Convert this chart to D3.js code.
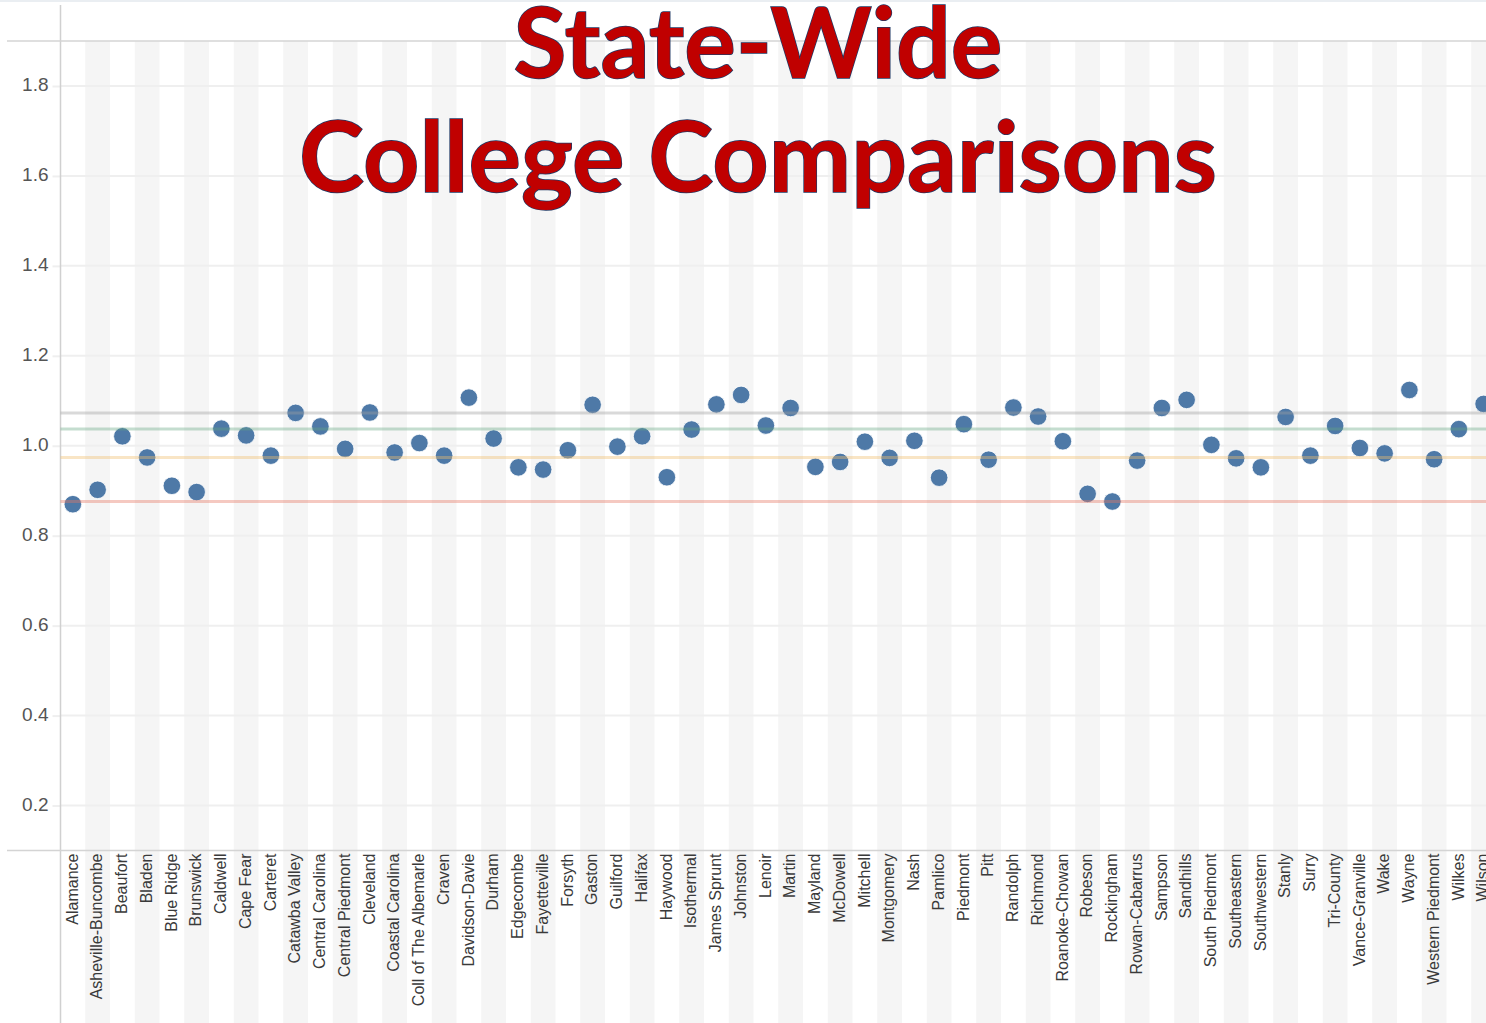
<!DOCTYPE html>
<html>
<head>
<meta charset="utf-8">
<script src="https://cdn.jsdelivr.net/npm/d3@7"></script>
<style>
  html, body { margin: 0; padding: 0; background: #fff; overflow: hidden; }
  svg { display: block; }
</style>
</head>
<body>
<svg id="chart" width="1486" height="1023"></svg>
<script>
const colleges = ["Alamance","Asheville-Buncombe","Beaufort","Bladen","Blue Ridge","Brunswick","Caldwell","Cape Fear","Carteret","Catawba Valley","Central Carolina","Central Piedmont","Cleveland","Coastal Carolina","Coll of The Albemarle","Craven","Davidson-Davie","Durham","Edgecombe","Fayetteville","Forsyth","Gaston","Guilford","Halifax","Haywood","Isothermal","James Sprunt","Johnston","Lenoir","Martin","Mayland","McDowell","Mitchell","Montgomery","Nash","Pamlico","Piedmont","Pitt","Randolph","Richmond","Roanoke-Chowan","Robeson","Rockingham","Rowan-Cabarrus","Sampson","Sandhills","South Piedmont","Southeastern","Southwestern","Stanly","Surry","Tri-County","Vance-Granville","Wake","Wayne","Western Piedmont","Wilkes","Wilson"];

const values = [0.870,0.902,1.021,0.974,0.911,0.897,1.038,1.023,0.978,1.073,1.043,0.993,1.074,0.985,1.006,0.978,1.107,1.016,0.952,0.947,0.990,1.091,0.998,1.021,0.930,1.036,1.092,1.113,1.045,1.084,0.953,0.964,1.009,0.973,1.011,0.929,1.048,0.969,1.085,1.065,1.010,0.893,0.876,0.967,1.084,1.102,1.002,0.972,0.952,1.064,0.978,1.044,0.995,0.983,1.124,0.970,1.037,1.093];

const yTicks = [0.2,0.4,0.6,0.8,1.0,1.2,1.4,1.6,1.8];

const refValues = [1.073, 1.037, 0.974, 0.876];
const refColors = ["rgba(160,160,160,0.4)","rgba(100,165,130,0.38)","rgba(240,190,110,0.4)","rgba(230,120,100,0.4)"];

const titleLines = ["State-Wide", "College Comparisons"];

const svg = d3.select("#chart");
const W = 1486, H = 1023;
const plotLeft = 60.5, plotTop = 41, plotBottom = 850.5;
const bandW = 24.75;

const x = d3.scaleBand().domain(colleges).range([plotLeft, plotLeft + colleges.length * bandW]).paddingInner(0).paddingOuter(0);
const y = d3.scaleLinear().domain([0.1, 1.9]).range([plotBottom, plotTop]);

// faint top border
svg.append("line").attr("x1", 0).attr("x2", W).attr("y1", 1).attr("y2", 1)
  .attr("stroke", "#eaeef2").attr("stroke-width", 2);

// stripes
svg.append("g").selectAll("rect").data(colleges.filter((d, i) => i % 2 === 1)).join("rect")
  .attr("x", d => x(d)).attr("width", x.bandwidth())
  .attr("y", plotTop).attr("height", H - plotTop)
  .attr("fill", "#f5f5f5");

// gridlines + tick marks
const yAxis = d3.axisLeft(y).tickValues(yTicks).tickFormat(d3.format(".1f")).tickSize(8).tickPadding(4);
const gy = svg.append("g").attr("transform", `translate(${plotLeft},0)`).call(yAxis);
gy.select(".domain").remove();
gy.selectAll(".tick line").attr("stroke", "#efefef").attr("stroke-width", 2);
gy.selectAll(".tick text").attr("font-family", "'Liberation Sans', Arial, sans-serif")
  .attr("font-size", 19).attr("fill", "#555").attr("dy", "0.25em");
svg.append("g").selectAll("line").data(yTicks).join("line")
  .attr("x1", plotLeft).attr("x2", W).attr("y1", d => y(d)).attr("y2", d => y(d))
  .attr("stroke", "#efefef").attr("stroke-width", 2);

// frame lines
svg.append("line").attr("x1", plotLeft).attr("x2", plotLeft).attr("y1", 5).attr("y2", H)
  .attr("stroke", "#d0d0d0").attr("stroke-width", 1.5);
svg.append("line").attr("x1", 7).attr("x2", W).attr("y1", plotTop).attr("y2", plotTop)
  .attr("stroke", "#d4d4d4").attr("stroke-width", 1.5);
svg.append("line").attr("x1", 7).attr("x2", W).attr("y1", plotBottom).attr("y2", plotBottom)
  .attr("stroke", "#d4d4d4").attr("stroke-width", 1.5);

// dots
svg.append("g").selectAll("circle").data(colleges).join("circle")
  .attr("cx", d => x(d) + x.bandwidth() / 2)
  .attr("cy", (d, i) => y(values[i]))
  .attr("r", 8.8)
  .attr("fill", "#4e79a7")
  .attr("stroke", "#fff").attr("stroke-width", 0.8);

// reference lines
svg.append("g").selectAll("line").data(refValues).join("line")
  .attr("x1", plotLeft).attr("x2", W)
  .attr("y1", d => y(d)).attr("y2", d => y(d))
  .attr("stroke", (d, i) => refColors[i]).attr("stroke-width", 3);

// category labels
const xAxis = d3.axisBottom(x).tickSize(0).tickPadding(0);
const gx = svg.append("g").attr("transform", `translate(0,${plotBottom})`).call(xAxis);
gx.select(".domain").remove();
gx.selectAll(".tick text")
  .attr("font-family", "'Liberation Sans', Arial, sans-serif")
  .attr("font-size", 16).attr("fill", "#3a3a3a")
  .attr("text-anchor", "end")
  .attr("transform", "rotate(-90)")
  .attr("x", -3).attr("y", 0).attr("dy", "0.3em");

// title
const titleY = [78, 192];
const titleW = [489, 918];
titleLines.forEach((t, i) => {
  svg.append("text")
    .attr("x", 758).attr("y", titleY[i])
    .attr("text-anchor", "middle")
    .attr("font-family", "Lato, 'Open Sans', sans-serif")
    .attr("font-weight", 700)
    .attr("font-size", 98)
    .attr("fill", "#c00000")
    .attr("stroke", "#1f3864").attr("stroke-width", 1.5)
    .attr("paint-order", "stroke")
    .attr("textLength", titleW[i]).attr("lengthAdjust", "spacingAndGlyphs")
    .text(t);
});
</script>
</body>
</html>
